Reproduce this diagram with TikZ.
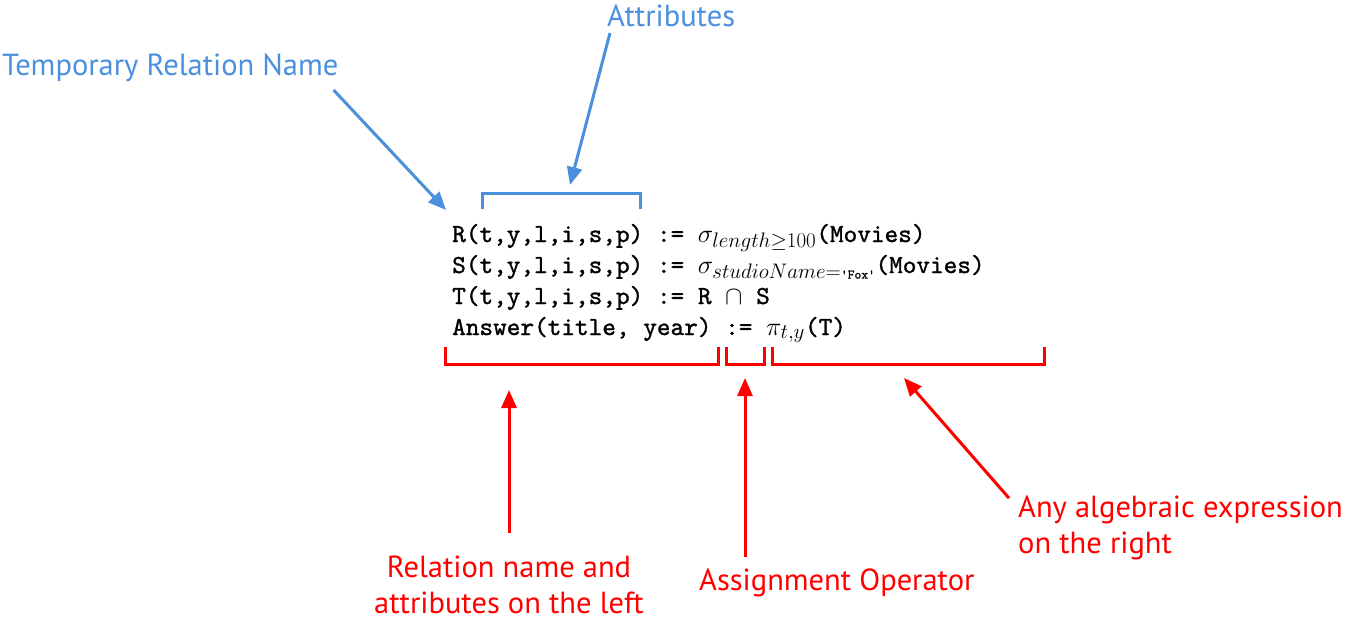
\documentclass[tikz,border=0pt]{standalone}
\usepackage{fix-cm}
\usepackage{amsmath}
\usepackage{amssymb}
\usepackage[no-math]{fontspec}
\newfontfamily\notefont{PT Sans}
\newfontfamily\codefont{lmmono10-regular.otf}[FakeBold=1.2]
\DeclareMathSizes{26}{26}{21}{15}
\usetikzlibrary{arrows.meta,positioning}
\definecolor{noteblue}{HTML}{4A90DD}
\definecolor{notered}{HTML}{FF0000}
\tikzset{codeline/.style={anchor=base west,inner sep=0pt,font=\fontsize{26}{31}\selectfont\codefont},
  bluenote/.style={inner sep=0pt,text=noteblue,font=\fontsize{30.5}{36}\selectfont\notefont},
  rednote/.style={inner sep=0pt,text=notered,font=\fontsize{30.5}{36}\selectfont\notefont},
  bluemark/.style={draw=noteblue,line width=3pt},
  redmark/.style={draw=notered,line width=3pt},
  pointer/.style={-{Triangle[length=18pt,width=15pt]}}}

\begin{document}
\begin{tikzpicture}[x=1pt,y=-1pt]
    \useasboundingbox (0,0) rectangle (1345,624);
    % the four assignments
    \node[codeline] (lineR) at (452,242) {R(t,y,l,i,s,p) := $\sigma_{length\geq 100}$(Movies)};
    \node[codeline] (lineS) at (452,273) {S(t,y,l,i,s,p) := $\sigma_{studioName=\mbox{\fontsize{13}{13}\selectfont\codefont 'Fox'}}$(Movies)};
    \node[codeline] (lineT) at (452,304) {T(t,y,l,i,s,p) := R $\cap$ S};
    \node[codeline] (lineAns) at (452,335) {Answer(title, year) := $\pi_{t,y}$(T)};
    % blue notes
    \node[bluenote,anchor=base west] (tempname) at (2,75) {Temporary Relation Name};
    \node[bluenote,anchor=base west] (attrs) at (607,26) {Attributes};
    \coordinate (nametip) at (446,210);
    \coordinate (attrtip) at (570,185);
    \draw[bluemark,pointer] ([xshift=-5pt,yshift=-15pt]tempname.base east) -- (nametip);
    \draw[bluemark,pointer] ([xshift=3pt,yshift=-7pt]attrs.base west) -- (attrtip);
    \draw[bluemark] (482,209) |- (640,193) -- (640,209);
    % red brackets
    \draw[redmark] (445,347) |- (718,364) -- (718,347);
    \draw[redmark] (726,347) |- (764,364) -- (764,347);
    \draw[redmark] (772,347) |- (1044,364) -- (1044,347);
    % red notes
    \node[rednote,align=center,anchor=base] (leftpart) at (509,613) {Relation name and\\attributes on the left};
    \node[rednote,anchor=base west] (assignop) at (699,590) {Assignment Operator};
    \node[rednote,align=left,anchor=base west] (rightpart) at (1018,553) {Any algebraic expression\\on the right};
    \coordinate (lefttip) at (509,390);
    \coordinate (assigntip) at (745,378);
    \coordinate (righttip) at (904,378);
    \draw[redmark,pointer] ([yshift=22pt]leftpart.north) -- (lefttip);
    \draw[redmark,pointer] ([xshift=46pt,yshift=11pt]assignop.north west) -- (assigntip);
    \draw[redmark,pointer] ([xshift=-9pt,yshift=-3pt]rightpart.north west) -- (righttip);
\end{tikzpicture}
\end{document}
